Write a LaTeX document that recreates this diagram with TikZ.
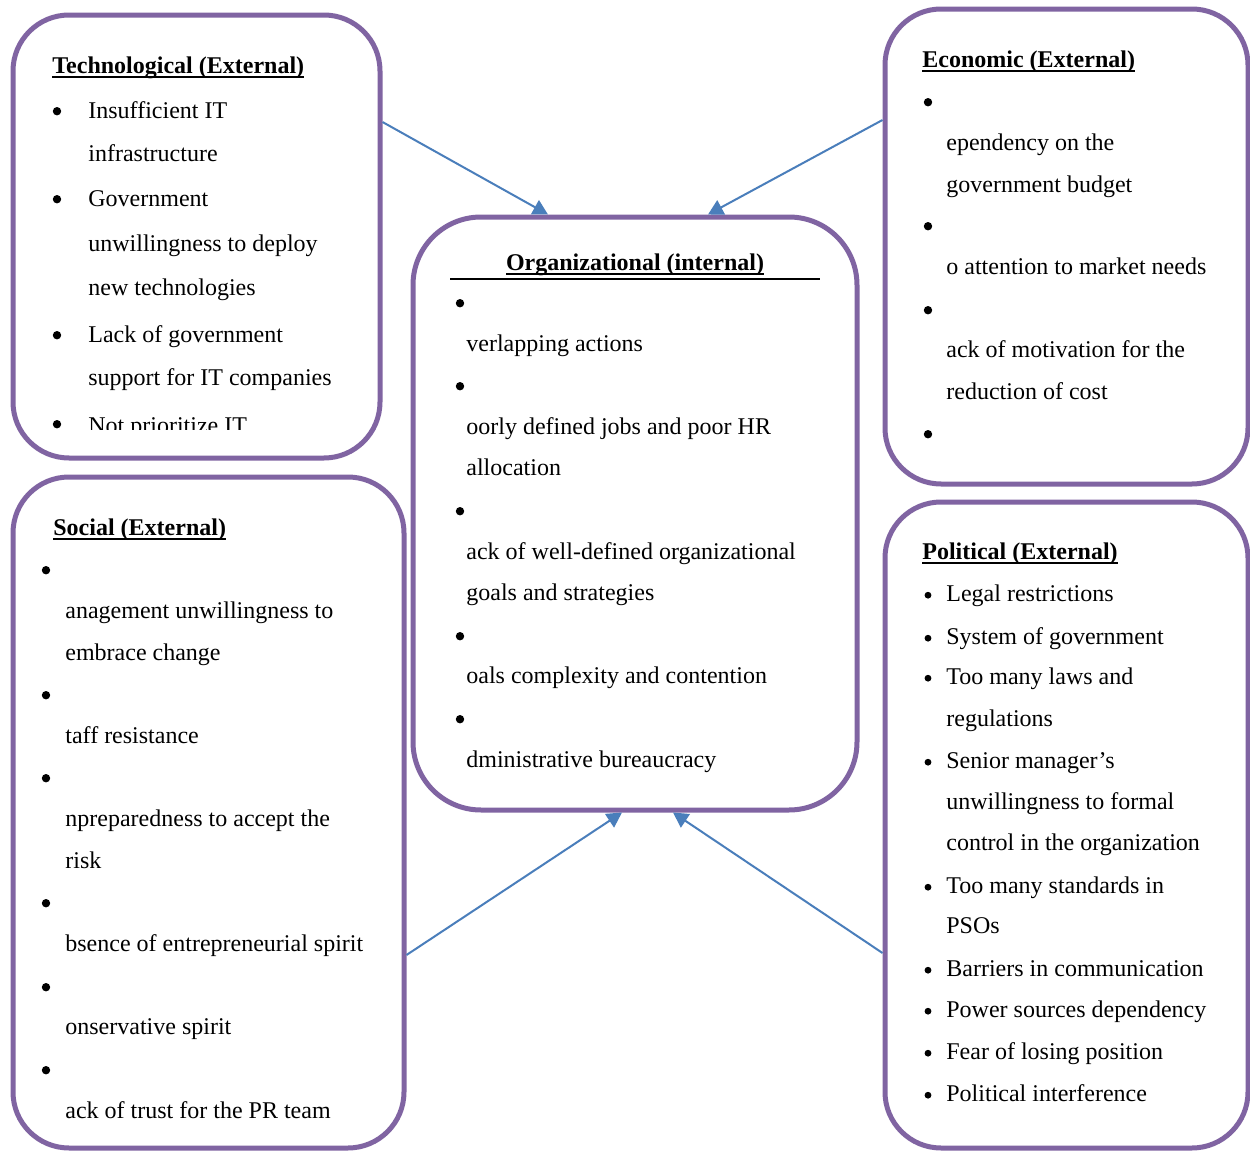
\documentclass[tikz,border=0pt]{standalone}
\usepackage{fontspec}
\setmainfont{Liberation Serif}
\usetikzlibrary{arrows.meta,fit}

\definecolor{boxpurple}{RGB}{128,100,162}
\definecolor{arrowblue}{RGB}{74,126,187}

% one numbered text line, placed by its baseline
\newcount\lineno
\newcommand\lineat[3]{\global\advance\lineno by 1\relax
  \node[txt] (line\the\lineno) at (#1,#2) {#3};}
% list bullets
\newcommand\dotat[2]{\fill (#1,#2) circle[radius=2.1pt];}
\newcommand\smalldotat[2]{\fill (#1,#2) circle[radius=1.7pt];}
% bold heading with a rule just under the baseline
\newcommand\titletext[1]{\setbox0=\hbox{\bfseries #1}%
  \hbox{\copy0\kern-\wd0\vrule width\wd0 height -1.4pt depth 2.3pt}}

\begin{document}
\begin{tikzpicture}[x=0.5pt,y=-0.5pt,
  box/.style={draw=boxpurple, line width=2.5pt, rounded corners=28pt, inner sep=0pt},
  txt/.style={anchor=base west, inner sep=0pt, font=\fontsize{12pt}{14pt}\selectfont},
  link/.style={draw=arrowblue, line width=1pt, -{Triangle[length=7.5pt,width=8pt]}}]

\useasboundingbox[fill=white] (0,0) rectangle (1250,1151);

% ---- frames ----
\node[box, fit={(13,15) (380,458)}] (tech) {};
\node[box, fit={(885,9) (1248,484)}] (econ) {};
\node[box, rounded corners=34pt, fit={(413,217) (857,810)}] (org) {};
\node[box, fit={(13,477) (404,1148)}] (social) {};
\node[box, fit={(885,502) (1248,1148)}] (polit) {};

% ---- connectors ----
\draw[link] (tech.east |- 0,122) -- (org.north -| 548,0);
\draw[link] (econ.west |- 0,120) -- (org.north -| 708,0);
\draw[link] (social.east |- 0,955) -- (org.south -| 622,0);
\draw[link] (polit.west |- 0,953) -- (org.south -| 673,0);

\begin{scope}[yshift=-0.6pt]
% ---- Technological ----
\node[txt] (techtitle) at (52,72) {\titletext{Technological (External)}};
\dotat{57}{110} \lineat{88}{117}{Insufficient IT}
\lineat{88}{160}{infrastructure}
\dotat{57}{198} \lineat{88}{205}{Government}
\lineat{88}{250}{unwillingness to deploy}
\lineat{88}{294}{new technologies}
\dotat{57}{334} \lineat{88}{341}{Lack of government}
\lineat{88}{384}{support for IT companies}
\dotat{57}{423}
\begin{scope}
  \clip (0,0) rectangle (1250,428);
  \lineat{88}{432}{Not prioritize IT}
\end{scope}

% ---- Economic ----
\node[txt] (econtitle) at (922,66) {\titletext{Economic (External)}};
\dotat{928}{101}
\lineat{946}{149}{ependency on the}
\lineat{946}{191}{government budget}
\dotat{928}{225}
\lineat{946}{273}{o attention to market needs}
\dotat{928}{309}
\lineat{946}{356}{ack of motivation for the}
\lineat{946}{398}{reduction of cost}
\dotat{928}{433}

% ---- Organizational ----
\node[txt, anchor=base] (orgtitle) at (635,269) {\titletext{Organizational (internal)}};
\draw[line width=1pt] (450,278) -- (820,278);
\dotat{460}{302} \lineat{466}{350}{verlapping actions}
\dotat{460}{385} \lineat{466}{433}{oorly defined jobs and poor HR}
\lineat{466}{474}{allocation}
\dotat{460}{510} \lineat{466}{558}{ack of well-defined organizational}
\lineat{466}{599}{goals and strategies}
\dotat{460}{635} \lineat{466}{682}{oals complexity and contention}
\dotat{460}{718} \lineat{466}{766}{dministrative bureaucracy}

% ---- Social ----
\node[txt] (socialtitle) at (53,534) {\titletext{Social (External)}};
\dotat{46}{569} \lineat{65}{617}{anagement unwillingness to}
\lineat{65}{659}{embrace change}
\dotat{46}{694} \lineat{65}{742}{taff resistance}
\dotat{46}{777} \lineat{65}{825}{npreparedness to accept the}
\lineat{65}{867}{risk}
\dotat{46}{902} \lineat{65}{950}{bsence of entrepreneurial spirit}
\dotat{46}{986} \lineat{65}{1033}{onservative spirit}
\dotat{46}{1069} \lineat{65}{1117}{ack of trust for the PR team}

% ---- Political ----
\node[txt] (polittitle) at (922,558) {\titletext{Political (External)}};
\smalldotat{928}{594} \lineat{946}{600}{Legal restrictions}
\smalldotat{928}{637} \lineat{946}{643}{System of government}
\smalldotat{928}{677} \lineat{946}{683}{Too many laws and}
\lineat{946}{725}{regulations}
\smalldotat{928}{761} \lineat{946}{767}{Senior manager’s}
\lineat{946}{808}{unwillingness to formal}
\lineat{946}{849}{control in the organization}
\smalldotat{928}{886} \lineat{946}{892}{Too many standards in}
\lineat{946}{932}{PSOs}
\smalldotat{928}{969} \lineat{946}{975}{Barriers in communication}
\smalldotat{928}{1010} \lineat{946}{1016}{Power sources dependency}
\smalldotat{928}{1052} \lineat{946}{1058}{Fear of losing position}
\smalldotat{928}{1094} \lineat{946}{1100}{Political interference}
\end{scope}
\end{tikzpicture}
\end{document}
